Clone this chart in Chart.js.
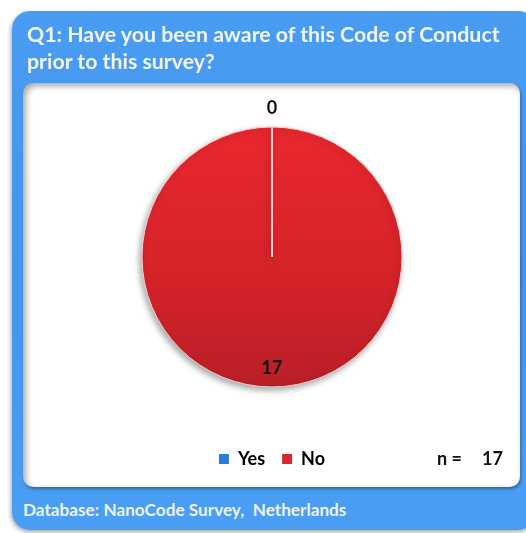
<!DOCTYPE html>
<html>
<head>
<meta charset="utf-8">
<script src="https://cdn.jsdelivr.net/npm/chart.js@4.4.1/dist/chart.umd.min.js"></script>
<style>
  html, body { margin: 0; padding: 0; background: #ffffff; width: 526px; height: 533px; overflow: hidden; }
  #outer {
    position: absolute; left: 12px; top: 11px; width: 524px; height: 519px;
    background: linear-gradient(#4a9cf2, #4496ee 50%, #4a9ef3);
    border-radius: 18px;
    box-shadow: -1px 2px 4px rgba(0,0,0,0.35);
  }
  #title {
    position: absolute; left: 27px; top: 21px; width: 499px; z-index: 3;
    font-family: Lato, "Open Sans", sans-serif; font-weight: bold; font-size: 21.3px;
    line-height: 27px; color: #f1f6fd; white-space: nowrap;
  }
  #panel {
    position: absolute; left: 23px; top: 83px; width: 497px; height: 404px;
    background: #ffffff; border-radius: 10px;
    box-shadow: inset 3px 3px 6px rgba(0,0,0,0.35), 1px 2px 3px rgba(0,0,0,0.35);
  }
  #chart { position: absolute; left: 23px; top: 60px; width: 497px; height: 427px; z-index: 2; }
  .nt {
    position: absolute; top: 447px; z-index: 3;
    font-family: Lato, "Open Sans", sans-serif; font-weight: bold; font-size: 18px; color: #111;
    white-space: pre;
  }
  #footer {
    position: absolute; left: 23px; top: 499px; z-index: 3;
    font-family: Lato, "Open Sans", sans-serif; font-weight: bold; font-size: 17.2px; color: #eef4ff;
    white-space: pre;
  }
</style>
</head>
<body>
<div id="outer"></div>
<div id="title">Q1: Have you been aware of this Code of Conduct<br>prior to this survey?</div>
<div id="panel"></div>
<div id="chart"><canvas id="c" width="497" height="427"></canvas></div>
<div class="nt" style="left:437px">n =</div>
<div class="nt" style="left:482px">17</div>
<div id="footer">Database: NanoCode Survey,  Netherlands</div>
<script>
const categories = ["Yes", "No"];
const values = [0, 17];
const colors = ["#2a7fdc", "#d9262e"];

const pieExtras = {
  id: 'pieExtras',
  beforeDatasetsDraw(chart) {
    const ctx = chart.ctx;
    ctx.save();
    ctx.shadowColor = 'rgba(0,0,0,0.35)';
    ctx.shadowBlur = 6;
    ctx.shadowOffsetX = -2;
    ctx.shadowOffsetY = 3;
  },
  afterDatasetsDraw(chart) {
    const ctx = chart.ctx;
    ctx.restore();
    const meta = chart.getDatasetMeta(0);
    ctx.save();
    meta.data.forEach((arc, i) => {
      const p = arc.getProps(['x','y','startAngle','endAngle','outerRadius'], true);
      if (values[i] === 0) {
        ctx.strokeStyle = '#f6c9cb';
        ctx.lineWidth = 2;
        ctx.beginPath();
        ctx.moveTo(p.x, p.y);
        ctx.lineTo(p.x + Math.cos(p.startAngle) * p.outerRadius, p.y + Math.sin(p.startAngle) * p.outerRadius);
        ctx.stroke();
      }
    });
    ctx.font = 'bold 18px Lato, "Open Sans", sans-serif';
    ctx.fillStyle = '#111';
    ctx.textAlign = 'center';
    ctx.textBaseline = 'middle';
    meta.data.forEach((arc, i) => {
      const p = arc.getProps(['x','y','startAngle','endAngle','outerRadius'], true);
      const mid = (p.startAngle + p.endAngle) / 2;
      let r;
      if (values[i] === 0) r = p.outerRadius + 19;
      else r = p.outerRadius - 19;
      ctx.fillText(String(values[i]), p.x + Math.cos(mid) * r, p.y + Math.sin(mid) * r);
    });
    ctx.restore();
  }
};

const ctx = document.getElementById('c').getContext('2d');
const chart = new Chart(ctx, {
  type: 'pie',
  data: {
    labels: categories,
    datasets: [{
      data: values,
      radius: 130,
      backgroundColor: (c) => {
        const ch = c.chart;
        const area = ch.chartArea;
        if (!area) return colors[c.dataIndex];
        if (c.dataIndex === 0) return colors[0];
        const cy = (area.top + area.bottom) / 2;
        const g = ch.ctx.createLinearGradient(0, cy - 130, 0, cy + 130);
        g.addColorStop(0, '#e9282f');
        g.addColorStop(0.6, '#d42229');
        g.addColorStop(1, '#b81f27');
        return g;
      },
      borderColor: '#f3d3d4',
      borderWidth: 1
    }]
  },
  options: {
    responsive: false,
    animation: false,
    rotation: 0,
    layout: { padding: { left: 1, right: 0, top: 21, bottom: 9 } },
    plugins: {
      tooltip: { enabled: false },
      legend: {
        position: 'bottom',
        labels: {
          boxWidth: 10, boxHeight: 10,
          padding: 17,
          color: '#111',
          font: { family: 'Lato, "Open Sans", sans-serif', size: 18, weight: 'bold' },
          generateLabels: (ch) => categories.map((c, i) => ({
            text: c, fillStyle: colors[i], strokeStyle: colors[i], lineWidth: 0, hidden: false, index: i
          }))
        }
      }
    }
  },
  plugins: [pieExtras]
});
</script>
</body>
</html>
